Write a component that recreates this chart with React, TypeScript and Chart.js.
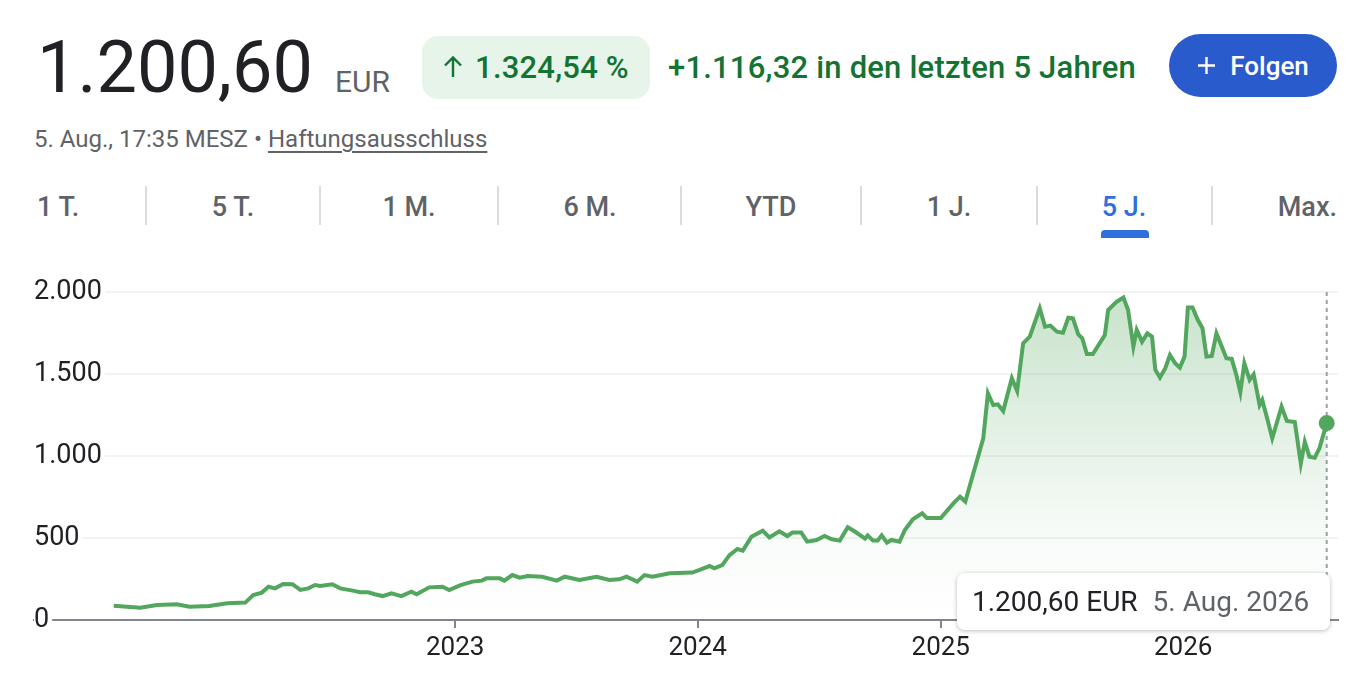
import React, { useRef, useEffect } from 'react';
import { Chart, registerables } from 'chart.js';

Chart.register(...registerables);

const dates = [
  '2021-08-05', '2021-09-14', '2021-10-09', '2021-11-08', '2021-11-27', '2021-12-27',
  '2022-01-23', '2022-02-19', '2022-03-03', '2022-03-16', '2022-03-26', '2022-04-05',
  '2022-04-17', '2022-05-01', '2022-05-13', '2022-05-25', '2022-06-04', '2022-06-12',
  '2022-06-30', '2022-07-12', '2022-07-31', '2022-08-11', '2022-08-23', '2022-09-02',
  '2022-09-14', '2022-09-27', '2022-10-12', '2022-10-27', '2022-11-04', '2022-11-23',
  '2022-12-13', '2022-12-23', '2023-01-09', '2023-01-27', '2023-02-10', '2023-02-17',
  '2023-03-09', '2023-03-16', '2023-03-28', '2023-04-08', '2023-04-20', '2023-05-12',
  '2023-06-03', '2023-06-15', '2023-07-07', '2023-08-02', '2023-08-21', '2023-09-05',
  '2023-09-16', '2023-10-02', '2023-10-13', '2023-10-25', '2023-11-20', '2023-12-24',
  '2024-01-04', '2024-01-19', '2024-01-26', '2024-02-07', '2024-02-18', '2024-03-01',
  '2024-03-09', '2024-03-22', '2024-04-08', '2024-04-18', '2024-05-03', '2024-05-15',
  '2024-05-23', '2024-06-05', '2024-06-14', '2024-06-28', '2024-07-10', '2024-07-21',
  '2024-08-02', '2024-08-14', '2024-08-24', '2024-09-09', '2024-09-13', '2024-09-21',
  '2024-09-28', '2024-10-04', '2024-10-12', '2024-10-19', '2024-10-31', '2024-11-08',
  '2024-11-20', '2024-12-04', '2024-12-11', '2025-01-01', '2025-01-20', '2025-01-30',
  '2025-02-07', '2025-02-19', '2025-03-06', '2025-03-13', '2025-03-21', '2025-03-28',
  '2025-04-05', '2025-04-18', '2025-04-26', '2025-05-05', '2025-05-15', '2025-05-30',
  '2025-06-07', '2025-06-15', '2025-06-25', '2025-07-04', '2025-07-12', '2025-07-19',
  '2025-07-27', '2025-08-02', '2025-08-09', '2025-08-18', '2025-09-05', '2025-09-10',
  '2025-09-23', '2025-10-03', '2025-10-10', '2025-10-18', '2025-10-23', '2025-10-31',
  '2025-11-08', '2025-11-15', '2025-11-20', '2025-11-27', '2025-12-05', '2025-12-12',
  '2025-12-20', '2025-12-27', '2026-01-03', '2026-01-08', '2026-01-15', '2026-01-23',
  '2026-01-30', '2026-02-05', '2026-02-13', '2026-02-20', '2026-02-28', '2026-03-07',
  '2026-03-15', '2026-03-22', '2026-03-28', '2026-04-03', '2026-04-11', '2026-04-17',
  '2026-04-26', '2026-04-30', '2026-05-08', '2026-05-15', '2026-05-29', '2026-06-06',
  '2026-06-18', '2026-06-27', '2026-07-03', '2026-07-10', '2026-07-18', '2026-07-25',
  '2026-08-05',
];

const prices = [
  87, 75, 91, 96, 81, 85,
  102, 106, 152, 167, 203, 193,
  220, 218, 183, 193, 213, 207,
  218, 193, 179, 169, 169, 157,
  146, 163, 146, 173, 157, 199,
  203, 183, 213, 234, 240, 254,
  254, 240, 274, 258, 268, 264,
  240, 264, 244, 264, 244, 248,
  264, 234, 274, 264, 285, 289,
  305, 329, 315, 335, 396, 433,
  423, 508, 545, 504, 541, 512,
  533, 533, 478, 488, 512, 492,
  484, 565, 541, 496, 516, 484,
  484, 516, 472, 488, 478, 549,
  614, 650, 622, 622, 711, 752,
  722, 894, 1108, 1382, 1311, 1315,
  1274, 1474, 1396, 1687, 1728, 1901,
  1789, 1795, 1758, 1752, 1843, 1839,
  1742, 1718, 1622, 1622, 1738, 1890,
  1941, 1966, 1890, 1667, 1768, 1697,
  1748, 1728, 1525, 1478, 1535, 1616,
  1565, 1539, 1606, 1905, 1905, 1829,
  1779, 1606, 1610, 1748, 1667, 1596,
  1592, 1494, 1389, 1565, 1464, 1498,
  1311, 1342, 1220, 1108, 1301, 1214,
  1207, 955, 1087, 996, 990, 1047,
  1200.6,
];

const yearTicks = [2023, 2024, 2025, 2026];
const yTicks = [0, 500, 1000, 1500, 2000];
const rangeTabs = ['1 T.', '5 T.', '1 M.', '6 M.', 'YTD', '1 J.', '5 J.', 'Max.'];
const activeTab = '5 J.';

const LINE = '#52a65d';
const FONT = 'Roboto, "Noto Sans", Arial, sans-serif';

const fmtThousands = (v: number) => String(v).replace(/\B(?=(\d{3})+(?!\d))/g, '.');

// dashed marker at the last data point
const endMarker = {
  id: 'endMarker',
  beforeDatasetsDraw(chart: any) {
    const meta = chart.getDatasetMeta(0);
    const last = meta.data[meta.data.length - 1];
    if (!last) return;
    const { top, bottom } = chart.chartArea;
    const ctx = chart.ctx;
    ctx.save();
    ctx.strokeStyle = '#9aa0a6';
    ctx.lineWidth = 2;
    ctx.setLineDash([4, 4]);
    ctx.beginPath();
    ctx.moveTo(last.x, top);
    ctx.lineTo(last.x, bottom);
    ctx.stroke();
    ctx.restore();
  },
};

const PriceChart: React.FC = () => {
  const chartRef = useRef<HTMLCanvasElement>(null);
  const chartInstance = useRef<Chart | null>(null);

  useEffect(() => {
    if (!chartRef.current) return;
    if (chartInstance.current) chartInstance.current.destroy();

    const points = dates.map((d, i) => ({ x: Date.parse(d), y: prices[i] }));
    const lastIdx = points.length - 1;

    chartInstance.current = new Chart(chartRef.current, {
      type: 'line',
      data: {
        datasets: [
          {
            data: points,
            borderColor: LINE,
            borderWidth: 4,
            tension: 0,
            fill: 'origin',
            backgroundColor: (c: any) => {
              const area = c.chart.chartArea;
              if (!area) return 'rgba(0,0,0,0)';
              const g = c.chart.ctx.createLinearGradient(0, area.top, 0, area.bottom);
              g.addColorStop(0, 'rgba(82,166,93,0.32)');
              g.addColorStop(0.75, 'rgba(82,166,93,0.04)');
              g.addColorStop(1, 'rgba(82,166,93,0)');
              return g;
            },
            pointRadius: (c: any) => (c.dataIndex === lastIdx ? 8 : 0),
            pointBackgroundColor: LINE,
            pointBorderWidth: 0,
            pointHoverRadius: 0,
          },
        ],
      },
      options: {
        animation: false,
        responsive: true,
        maintainAspectRatio: false,
        events: [],
        layout: { padding: { left: 34, right: 14, top: 22, bottom: 0 } },
        plugins: { legend: { display: false }, tooltip: { enabled: false } },
        scales: {
          x: {
            type: 'linear',
            min: Date.UTC(2021, 3, 7),
            max: Date.UTC(2026, 7, 22),
            afterBuildTicks: (s: any) => {
              s.ticks = yearTicks.map((y) => ({ value: Date.UTC(y, 0, 1) }));
            },
            afterFit: (s: any) => {
              s.height = 62;
            },
            ticks: {
              autoSkip: false,
              maxRotation: 0,
              padding: 5,
              color: '#202124',
              font: { family: FONT, size: 26 },
              callback: (v: any) => String(new Date(v).getUTCFullYear()),
            },
            grid: { drawOnChartArea: false, drawTicks: true, tickLength: 8, color: '#80868b', lineWidth: 2 },
            border: { display: true, color: '#80868b', width: 2 },
          },
          y: {
            min: 0,
            max: 2000,
            afterBuildTicks: (s: any) => {
              s.ticks = yTicks.map((v) => ({ value: v }));
            },
            afterFit: (s: any) => {
              s.width = 0;
            },
            ticks: {
              mirror: true,
              padding: 0,
              z: 1,
              showLabelBackdrop: true,
              backdropColor: '#ffffff',
              backdropPadding: { left: 0, right: 3, top: 2, bottom: 2 },
              color: '#202124',
              font: { family: FONT, size: 27 },
              callback: (v: any) => fmtThousands(v),
            },
            grid: {
              drawTicks: false,
              lineWidth: 2,
              color: (c: any) => (c.tick && c.tick.value === 0 ? 'rgba(0,0,0,0)' : '#f1f3f4'),
            },
            border: { display: false },
          },
        },
      } as any,
      plugins: [endMarker],
    });

    return () => {
      if (chartInstance.current) {
        chartInstance.current.destroy();
        chartInstance.current = null;
      }
    };
  }, []);

  return (
    <div style={{ position: 'absolute', left: 0, top: 270, width: 1352, height: 412 }}>
      <canvas ref={chartRef} />
    </div>
  );
};

// tab label positions along the range row
const tabPlace = [
  { left: 37 },
  { center: 233 },
  { center: 409 },
  { center: 590 },
  { center: 771 },
  { center: 949 },
  { center: 1124 },
  { right: 1337 },
];
const tabSeparators = [146, 320, 498, 681, 861, 1037, 1212];

const App: React.FC = () => {
  const abs = (o: React.CSSProperties): React.CSSProperties => ({ position: 'absolute', ...o });
  const green: React.CSSProperties = { fontSize: 31, lineHeight: '31px', fontWeight: 500, letterSpacing: 0.2, color: '#137333' };
  return (
    <div
      style={{
        position: 'absolute',
        left: 0,
        top: 0,
        width: 1352,
        height: 682,
        overflow: 'hidden',
        background: '#fff',
        fontFamily: FONT,
        color: '#202124',
      }}
    >
      <div style={abs({ left: 37, top: 32, display: 'flex', alignItems: 'baseline', gap: 22 })}>
        <span style={{ fontSize: 72, lineHeight: '72px' }}>1.200,60</span>
        <span style={{ fontSize: 30, lineHeight: '30px', color: '#5f6368' }}>EUR</span>
      </div>

      <div
        style={abs({
          left: 422,
          top: 36,
          width: 228,
          height: 63,
          borderRadius: 16,
          background: '#e6f4ea',
          display: 'flex',
          alignItems: 'center',
          justifyContent: 'center',
          gap: 12,
          ...green,
        })}
      >
        <svg width="20" height="24" viewBox="0 0 20 24" style={{ marginTop: -2 }}>
          <path d="M10 22V3M2 10.5l8-8 8 8" stroke="#137333" strokeWidth="2.4" fill="none" />
        </svg>
        <span>1.324,54 %</span>
      </div>

      <div style={abs({ left: 668, top: 52, ...green })}>+1.116,32 in den letzten 5 Jahren</div>

      <div
        style={abs({
          left: 1169,
          top: 34,
          width: 168,
          height: 63,
          borderRadius: 32,
          background: '#2a5bcc',
          color: '#fff',
          display: 'flex',
          alignItems: 'center',
          justifyContent: 'center',
          gap: 14,
          fontSize: 26,
          fontWeight: 500,
          lineHeight: '26px',
        })}
      >
        <svg width="19" height="19" viewBox="0 0 19 19">
          <path d="M9.5 1v17M1 9.5h17" stroke="#fff" strokeWidth="2.4" />
        </svg>
        <span>Folgen</span>
      </div>

      <div style={abs({ left: 34, top: 127, fontSize: 24, lineHeight: '24px', color: '#5f6368' })}>
        5. Aug., 17:35 MESZ •{' '}
        <span style={{ textDecoration: 'underline', textUnderlineOffset: 4 }}>Haftungsausschluss</span>
      </div>

      {tabSeparators.map((x) => (
        <div key={x} style={abs({ left: x - 1, top: 186, width: 2, height: 39, background: '#dadce0' })} />
      ))}
      {rangeTabs.map((t, i) => {
        const p: any = tabPlace[i];
        const base: React.CSSProperties = {
          top: 194,
          fontSize: 27,
          lineHeight: '27px',
          fontWeight: 500,
          whiteSpace: 'nowrap',
          color: t === activeTab ? '#2f6fde' : '#5f6368',
        };
        if (p.center !== undefined) {
          return (
            <div key={t} style={abs({ ...base, left: p.center - 80, width: 160, textAlign: 'center' })}>
              {t}
            </div>
          );
        }
        if (p.right !== undefined) {
          return (
            <div key={t} style={abs({ ...base, right: 1352 - p.right, textAlign: 'right' })}>
              {t}
            </div>
          );
        }
        return (
          <div key={t} style={abs({ ...base, left: p.left })}>
            {t}
          </div>
        );
      })}
      <div style={abs({ left: 1101, top: 230, width: 48, height: 8, borderRadius: '4px 4px 0 0', background: '#2f6fde' })} />

      <PriceChart />

      <div
        style={abs({
          left: 957,
          top: 573,
          width: 373,
          height: 57,
          background: '#fff',
          borderRadius: 8,
          boxShadow: '0 1px 4px rgba(60,64,67,0.35)',
          display: 'flex',
          alignItems: 'center',
          paddingLeft: 15,
          boxSizing: 'border-box',
          gap: 15,
          fontSize: 28,
          lineHeight: '28px',
          zIndex: 2,
        })}
      >
        <span style={{ color: '#202124' }}>1.200,60 EUR</span>
        <span style={{ color: '#5f6368' }}>5. Aug. 2026</span>
      </div>
    </div>
  );
};

export default App;
